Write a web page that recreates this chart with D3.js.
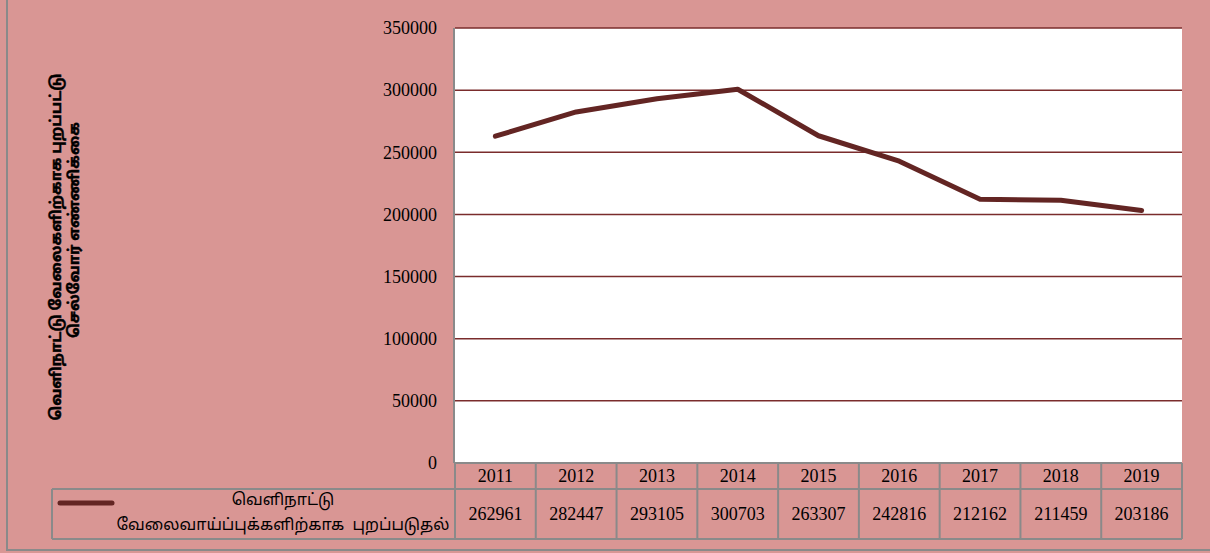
<!DOCTYPE html>
<html>
<head>
<meta charset="utf-8">
<script src="https://cdn.jsdelivr.net/npm/d3@7"></script>
<style>
  html, body { margin: 0; padding: 0; background: #D99694; }
  svg { display: block; }
</style>
</head>
<body>
<svg id="chart" width="1210" height="553"></svg>
<script>
// Departures for foreign employment, by year
const years = ["2011", "2012", "2013", "2014", "2015", "2016", "2017", "2018", "2019"];
const departures = [262961, 282447, 293105, 300703, 263307, 242816, 212162, 211459, 203186];
const yTicks = [0, 50000, 100000, 150000, 200000, 250000, 300000, 350000];
const seriesName = ["வெளிநாட்டு", "வேலைவாய்ப்புக்களிற்காக  புறப்படுதல்"];
const yTitle = ["வெளிநாட்டு வேலைகளிற்காக புறப்பட்டு", "செல்வோர் எண்ணிக்கை"];

const svg = d3.select("#chart");
const W = 1210, H = 553;
const plot = { left: 455, right: 1182, top: 28, bottom: 463 };
const table = { yearBottom: 489, valueBottom: 539, legendLeft: 52 };
const lineColor = "#632523";
const gridColor = "#7a2c2c";
const borderColor = "#8a8a8a";
const serif = "'Liberation Serif', 'Times New Roman', serif";
const tamil = "'Noto Sans Tamil', 'Noto Sans Tamil UI', 'Lohit Tamil', 'Latha', 'FreeSans', 'Noto Sans', sans-serif";

// chart area frame
svg.append("rect").attr("x", 0).attr("y", 0).attr("width", W).attr("height", H).attr("fill", "#D99694");
svg.append("rect").attr("x", 7).attr("y", -5).attr("width", W + 10).attr("height", 555)
  .attr("fill", "none").attr("stroke", borderColor).attr("stroke-width", 2);

// plot area
svg.append("rect").attr("x", plot.left).attr("y", plot.top)
  .attr("width", plot.right - plot.left).attr("height", plot.bottom - plot.top).attr("fill", "#fff");

const x = d3.scaleBand().domain(years).range([plot.left, plot.right]).padding(0);
const y = d3.scaleLinear().domain([0, 350000]).range([plot.bottom, plot.top]);

// horizontal gridlines
svg.append("g").selectAll("line").data(yTicks.filter(d => d > 0)).join("line")
  .attr("x1", plot.left).attr("x2", plot.right)
  .attr("y1", d => y(d)).attr("y2", d => y(d))
  .attr("stroke", gridColor).attr("stroke-width", 1.5);

// value axis labels
const yAxis = d3.axisLeft(y).tickValues(yTicks).tickFormat(d3.format("d")).tickSize(0).tickPadding(18);
const ya = svg.append("g").attr("transform", `translate(${plot.left},0)`).call(yAxis);
ya.select(".domain").remove();
ya.selectAll("text").attr("font-family", serif).attr("font-size", 18).attr("fill", "#000");

// vertical axis line
svg.append("line").attr("x1", plot.left - 1).attr("x2", plot.left - 1)
  .attr("y1", plot.top).attr("y2", plot.bottom)
  .attr("stroke", borderColor).attr("stroke-width", 2);

// data line
const line = d3.line().x((d, i) => x(years[i]) + x.bandwidth() / 2).y(d => y(d));
svg.append("path").datum(departures).attr("d", line)
  .attr("fill", "none").attr("stroke", lineColor).attr("stroke-width", 5)
  .attr("stroke-linejoin", "round").attr("stroke-linecap", "round");

// data table
const tg = svg.append("g");
const gridStyle = sel => sel.attr("stroke", borderColor).attr("stroke-width", 2).attr("fill", "none");
tg.append("line").attr("x1", plot.left).attr("x2", plot.right).attr("y1", plot.bottom).attr("y2", plot.bottom).call(gridStyle);
tg.append("line").attr("x1", table.legendLeft).attr("x2", plot.right).attr("y1", table.yearBottom).attr("y2", table.yearBottom).call(gridStyle);
tg.append("line").attr("x1", table.legendLeft).attr("x2", plot.right).attr("y1", table.valueBottom).attr("y2", table.valueBottom).call(gridStyle);
tg.append("line").attr("x1", table.legendLeft).attr("x2", table.legendLeft).attr("y1", table.yearBottom).attr("y2", table.valueBottom).call(gridStyle);
const edges = years.map(d => x(d)).concat([plot.right]);
tg.selectAll("line.col").data(edges).join("line").attr("class", "col")
  .attr("x1", d => d).attr("x2", d => d)
  .attr("y1", plot.bottom).attr("y2", table.valueBottom).call(gridStyle);

tg.selectAll("text.year").data(years).join("text").attr("class", "year")
  .attr("x", d => x(d) + x.bandwidth() / 2).attr("y", (plot.bottom + table.yearBottom) / 2 + 6)
  .attr("text-anchor", "middle").attr("font-family", serif).attr("font-size", 18).attr("fill", "#000")
  .text(d => d);

tg.selectAll("text.val").data(departures).join("text").attr("class", "val")
  .attr("x", (d, i) => x(years[i]) + x.bandwidth() / 2).attr("y", (table.yearBottom + table.valueBottom) / 2 + 6)
  .attr("text-anchor", "middle").attr("font-family", serif).attr("font-size", 18).attr("fill", "#000")
  .text(d => d);

// legend key inside the table
tg.append("line").attr("x1", 60).attr("x2", 112).attr("y1", 503).attr("y2", 503)
  .attr("stroke", lineColor).attr("stroke-width", 5).attr("stroke-linecap", "round");
const lt = tg.append("text").attr("text-anchor", "middle").attr("font-family", tamil)
  .attr("font-size", 16).attr("fill", "#000");
lt.append("tspan").attr("x", 283).attr("y", 505).text(seriesName[0]);
lt.append("tspan").attr("x", 283).attr("y", 530).attr("xml:space", "preserve").text(seriesName[1]);

// vertical axis title (heavy weight)
const tt = svg.append("text").attr("transform", "rotate(-90)")
  .attr("text-anchor", "middle").attr("font-family", tamil).attr("font-weight", "bold")
  .attr("font-size", 15).attr("fill", "#000")
  .attr("stroke", "#000").attr("stroke-width", 0.45);
tt.append("tspan").attr("x", -247).attr("y", 61).text(yTitle[0]);
tt.append("tspan").attr("x", -230).attr("y", 79).text(yTitle[1]);
</script>
</body>
</html>
